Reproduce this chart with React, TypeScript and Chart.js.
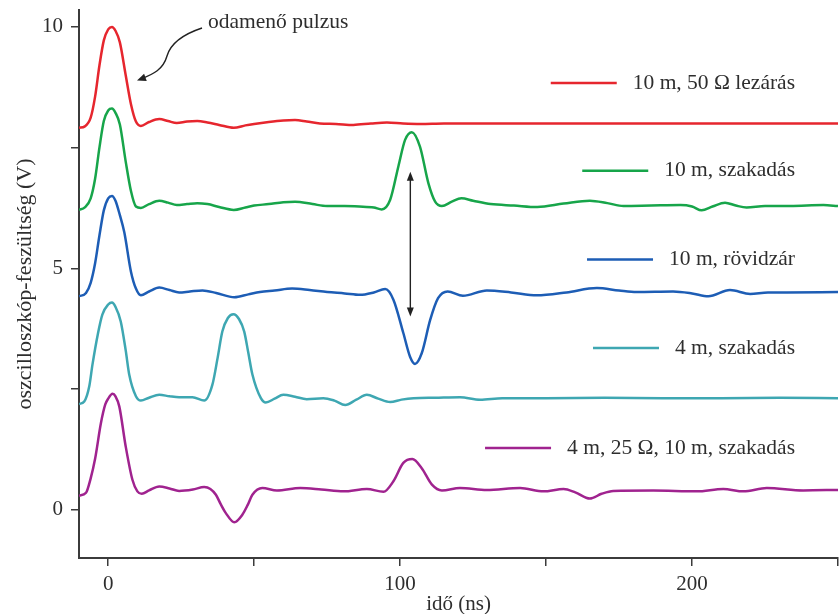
import React, { useEffect, useRef } from "react";
import { Chart, registerables } from "chart.js";

Chart.register(...registerables);

const FONT_FAMILY = "'Liberation Serif', 'DejaVu Serif', serif";
const AXIS_COLOR = "#3b3b3b";
const TEXT_COLOR = "#2e2e2e";

// axis ticks
const xTicks = [0, 50, 100, 150, 200, 250];
const xTickLabels = ["0", "", "100", "", "200", ""];
const yTicks = [0, 2.5, 5, 7.5, 10];
const yTickLabels = ["0", "", "5", "", "10"];

const xTitle = "idő (ns)";
const yTitle = "oszcilloszkóp-feszültség (V)";
const pulseNote = "odamenő pulzus";

// series
const seriesLabels = [
  "10 m, 50 Ω lezárás",
  "10 m, szakadás",
  "10 m, rövidzár",
  "4 m, szakadás",
  "4 m, 25 Ω, 10 m, szakadás",
];
const seriesColors = ["#e6262e", "#17a54a", "#1d5db5", "#3ea7b2", "#a0238f"];
// vertical position (in V) of each legend row
const legendRowY = [8.84, 7.02, 5.18, 3.35, 1.28];

const redT = [-10, -8, -6, -4.5, -3, -1.5, 0, 1.3, 2.5, 4, 6, 7.8, 9.5, 11.2, 14, 17.5, 20.5, 23.5, 27, 30.5, 34, 38, 43, 47, 50, 55, 60, 64, 68, 72.5, 78, 84, 90, 95.5, 101, 107, 115, 130, 150, 175, 200, 225, 250];
const redV = [7.91, 7.94, 8.12, 8.55, 9.2, 9.72, 9.95, 10.0, 9.92, 9.68, 9.0, 8.4, 8.04, 7.95, 8.03, 8.09, 8.05, 8.01, 8.04, 8.05, 8.02, 7.97, 7.91, 7.96, 7.99, 8.03, 8.06, 8.07, 8.04, 8.0, 7.99, 7.97, 8.0, 8.02, 8.0, 7.99, 8.0, 8.0, 8.0, 8.0, 8.0, 8.0, 8.0];

const greenT = [-10, -8, -6, -4.5, -3, -1.5, 0, 1.3, 2.5, 4, 6, 7.8, 9.5, 11.2, 14, 17.5, 20.5, 23.5, 27, 30.5, 34, 38, 43, 47, 50, 55, 60, 64, 70, 75, 81, 86, 91, 93.7, 96.6, 99.4, 101.7, 104, 106.8, 109.7, 112, 114.3, 117.7, 121, 125, 131, 139, 147, 156, 165, 171, 176.5, 186, 196, 200, 203.3, 207, 211.3, 215, 218.7, 225, 233.6, 245, 250];
const greenV = [6.21, 6.26, 6.45, 6.85, 7.5, 8.05, 8.27, 8.31, 8.22, 7.98, 7.21, 6.6, 6.28, 6.25, 6.33, 6.4, 6.36, 6.31, 6.33, 6.35, 6.33, 6.27, 6.21, 6.26, 6.3, 6.33, 6.37, 6.38, 6.33, 6.29, 6.29, 6.28, 6.26, 6.22, 6.42, 7.11, 7.66, 7.82, 7.52, 6.76, 6.38, 6.29, 6.38, 6.45, 6.4, 6.33, 6.3, 6.27, 6.34, 6.4, 6.35, 6.29, 6.3, 6.31, 6.28, 6.2, 6.28, 6.36, 6.3, 6.26, 6.29, 6.29, 6.31, 6.29];

const blueT = [-10, -7.6, -6, -4.5, -3, -1.5, 0, 1.3, 2.5, 4, 5.5, 7.8, 9.5, 11.2, 14, 17.5, 21, 24.3, 28, 32.3, 37, 43.2, 48, 52, 57, 63, 69, 75, 81, 86.3, 91, 94.9, 97.7, 101.1, 103.4, 105.1, 107.4, 110.3, 113, 116.3, 121.5, 129.7, 138, 146.8, 157, 167.4, 175, 181, 193.5, 200, 205.6, 213, 219.9, 226, 232.4, 250];
const blueV = [4.42, 4.49, 4.7, 5.1, 5.68, 6.2, 6.45, 6.5, 6.4, 6.1, 5.75, 4.93, 4.58, 4.44, 4.52, 4.6, 4.55, 4.5, 4.52, 4.54, 4.49, 4.4, 4.46, 4.51, 4.54, 4.58, 4.55, 4.51, 4.48, 4.45, 4.5, 4.57, 4.35, 3.66, 3.17, 3.02, 3.24, 3.93, 4.38, 4.52, 4.43, 4.54, 4.5, 4.44, 4.5, 4.59, 4.54, 4.51, 4.52, 4.48, 4.42, 4.55, 4.47, 4.5, 4.5, 4.51];

const tealT = [-10, -8.2, -6.5, -5.4, -3.5, -2, 0, 1.3, 2.5, 4.3, 6, 7.2, 9.5, 11.2, 14, 17.5, 21, 24.3, 28.9, 32.9, 35.7, 37.5, 39.1, 41, 42.9, 44.8, 46.6, 48, 49.4, 52.3, 54, 57, 60, 64, 68, 73.7, 77.5, 81.2, 85, 88.6, 92.5, 96.6, 100.5, 104.6, 112, 120.5, 127.4, 135, 150, 170, 190, 210, 230, 250];
const tealV = [2.19, 2.24, 2.55, 3.0, 3.65, 4.04, 4.25, 4.29, 4.2, 3.9, 3.3, 2.8, 2.35, 2.26, 2.32, 2.38, 2.35, 2.33, 2.33, 2.26, 2.59, 3.15, 3.69, 3.97, 4.05, 3.95, 3.69, 3.25, 2.8, 2.31, 2.22, 2.3, 2.38, 2.34, 2.29, 2.31, 2.26, 2.17, 2.28, 2.38, 2.3, 2.23, 2.28, 2.31, 2.32, 2.33, 2.28, 2.31, 2.31, 2.32, 2.31, 2.31, 2.32, 2.31];

const purpleT = [-10, -7.6, -6, -4.5, -2.5, -1, 0, 1.5, 2.5, 3.8, 6, 8.3, 10, 11.5, 14, 17.5, 21, 24.3, 29, 32.9, 35, 36.9, 38.5, 40.3, 43.2, 46, 47.8, 49.4, 52.8, 57.8, 65.8, 73, 80.6, 88.6, 94.3, 97.7, 101.1, 104.2, 107.4, 110.9, 114.3, 120.5, 129.7, 141.1, 149.1, 156, 160, 165, 169, 173, 186.7, 201.6, 210.7, 217.6, 225.6, 238.1, 250];
const purpleV = [0.29, 0.35, 0.65, 1.05, 1.79, 2.18, 2.3, 2.4, 2.35, 2.14, 1.31, 0.62, 0.38, 0.33, 0.4, 0.48, 0.44, 0.39, 0.42, 0.47, 0.43, 0.31, 0.12, -0.07, -0.26, -0.1, 0.1, 0.31, 0.45, 0.4, 0.45, 0.42, 0.38, 0.43, 0.37, 0.59, 0.97, 1.05, 0.86, 0.52, 0.4, 0.45, 0.41, 0.45, 0.38, 0.43, 0.36, 0.23, 0.33, 0.39, 0.4, 0.38, 0.43, 0.38, 0.45, 0.4, 0.41];

const seriesT = [redT, greenT, blueT, tealT, purpleT];
const seriesV = [redV, greenV, blueV, tealV, purpleV];

// reflection marker: double arrow between two voltages at one time
const reflectionT = 103.5;
const reflectionFrom = 4.0;
const reflectionTo = 7.0;

const font = (size: number) => ({ family: FONT_FAMILY, size, weight: "normal" as const });

function arrowHead(ctx: CanvasRenderingContext2D, x: number, y: number, dx: number, dy: number, len: number, half: number) {
  const l = Math.hypot(dx, dy);
  const ux = dx / l;
  const uy = dy / l;
  ctx.beginPath();
  ctx.moveTo(x, y);
  ctx.lineTo(x - ux * len - uy * half, y - uy * len + ux * half);
  ctx.lineTo(x - ux * len + uy * half, y - uy * len - ux * half);
  ctx.closePath();
  ctx.fill();
}

const annotations = {
  id: "annotations",
  afterDatasetsDraw(chart: any) {
    const { ctx, scales, chartArea } = chart;
    const xs = scales.x;
    const ys = scales.y;
    ctx.save();
    ctx.textBaseline = "middle";

    // legend rows
    ctx.font = `21.5px ${FONT_FAMILY}`;
    const textRight = chartArea.right - 43;
    seriesLabels.forEach((label, i) => {
      const yy = ys.getPixelForValue(legendRowY[i]);
      ctx.fillStyle = TEXT_COLOR;
      ctx.textAlign = "right";
      ctx.fillText(label, textRight, yy);
      const w = ctx.measureText(label).width;
      const lineEnd = textRight - w - 16;
      ctx.strokeStyle = seriesColors[i];
      ctx.lineWidth = 2.5;
      ctx.beginPath();
      ctx.moveTo(lineEnd - 66, yy);
      ctx.lineTo(lineEnd, yy);
      ctx.stroke();
    });

    // "odamenő pulzus" note with curved arrow
    ctx.font = `21.5px ${FONT_FAMILY}`;
    ctx.textAlign = "left";
    ctx.fillStyle = TEXT_COLOR;
    ctx.fillText(pulseNote, chartArea.left + 129, chartArea.top + 12);
    const ox = chartArea.left;
    const oy = chartArea.top;
    ctx.strokeStyle = "#222";
    ctx.fillStyle = "#222";
    ctx.lineWidth = 1.4;
    ctx.beginPath();
    ctx.moveTo(ox + 123, oy + 18);
    ctx.bezierCurveTo(ox + 105, oy + 24, ox + 92, oy + 32, ox + 88, oy + 46);
    ctx.bezierCurveTo(ox + 84, oy + 60, ox + 74, oy + 64, ox + 62, oy + 69);
    ctx.stroke();
    arrowHead(ctx, ox + 58, oy + 70.5, -12, 4.5, 9, 3.8);

    // double arrow for reflection
    const ax = xs.getPixelForValue(reflectionT);
    const ay1 = ys.getPixelForValue(reflectionTo);
    const ay2 = ys.getPixelForValue(reflectionFrom);
    ctx.lineWidth = 1.4;
    ctx.beginPath();
    ctx.moveTo(ax, ay1 + 6);
    ctx.lineTo(ax, ay2 - 6);
    ctx.stroke();
    arrowHead(ctx, ax, ay1, 0, -1, 9, 3.5);
    arrowHead(ctx, ax, ay2, 0, 1, 9, 3.5);
    ctx.restore();
  },
};

export default function App() {
  const ref = useRef<HTMLCanvasElement>(null);

  useEffect(() => {
    if (!ref.current) return;
    const datasets = seriesLabels.map((label, i) => ({
      label,
      data: seriesT[i].map((t, j) => ({ x: t, y: seriesV[i][j] })),
      borderColor: seriesColors[i],
      backgroundColor: seriesColors[i],
      borderWidth: 2.5,
      pointRadius: 0,
      cubicInterpolationMode: "monotone" as const,
      fill: false,
    }));

    const chart = new Chart(ref.current, {
      type: "line",
      data: { datasets },
      options: {
        animation: false,
        responsive: true,
        maintainAspectRatio: false,
        layout: { padding: { top: 10, right: 1, left: 0, bottom: 0 } },
        plugins: {
          legend: { display: false },
          tooltip: { enabled: false },
        },
        scales: {
          x: {
            type: "linear",
            min: -10,
            max: 250,
            afterBuildTicks: (s: any) => {
              s.ticks = xTicks.map((v) => ({ value: v }));
            },
            afterFit: (s: any) => {
              s.height = 56;
              s.paddingLeft = 0;
              s.paddingRight = 0;
            },
            ticks: {
              autoSkip: false,
              maxRotation: 0,
              padding: 6,
              color: TEXT_COLOR,
              font: font(21),
              callback: (_v: any, i: number) => xTickLabels[i],
            },
            grid: {
              drawOnChartArea: false,
              drawTicks: true,
              tickLength: 8,
              color: AXIS_COLOR,
              lineWidth: 1.5,
            },
            border: { color: AXIS_COLOR, width: 2 },
            title: {
              display: true,
              text: xTitle,
              color: TEXT_COLOR,
              font: font(21),
              padding: { top: 0, bottom: -3 },
            },
          },
          y: {
            type: "linear",
            min: -1,
            max: 10.35,
            afterBuildTicks: (s: any) => {
              s.ticks = yTicks.map((v) => ({ value: v }));
            },
            afterFit: (s: any) => {
              s.width = 79;
              s.paddingTop = 0;
              s.paddingBottom = 0;
            },
            ticks: {
              autoSkip: false,
              padding: 8,
              color: TEXT_COLOR,
              font: font(21),
              callback: (_v: any, i: number) => yTickLabels[i],
            },
            grid: {
              drawOnChartArea: false,
              drawTicks: true,
              tickLength: 8,
              color: AXIS_COLOR,
              lineWidth: 1.5,
            },
            border: { color: AXIS_COLOR, width: 2 },
            title: {
              display: true,
              text: yTitle,
              color: TEXT_COLOR,
              font: font(22),
              padding: { top: 12, bottom: 0 },
            },
          },
        },
      },
      plugins: [annotations],
    });
    return () => chart.destroy();
  }, []);

  return (
    <div style={{ position: "absolute", left: 0, top: 0, width: 839, height: 614, background: "#fff" }}>
      <canvas ref={ref} />
    </div>
  );
}
